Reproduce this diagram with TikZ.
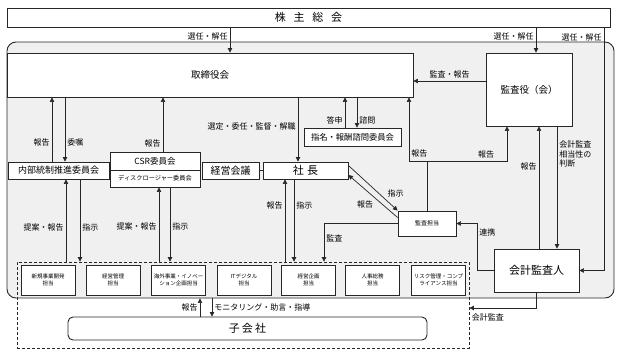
\documentclass[tikz,border=0pt]{standalone}
\usepackage{fontspec}
\setmainfont{Noto Sans CJK JP}
\usetikzlibrary{arrows.meta}
\usetikzlibrary{positioning}

\begin{document}
\begin{tikzpicture}[x=1pt,y=-1pt,
        box/.style={draw=black!85,line width=0.9pt,fill=white,inner sep=1pt,align=center},
        arr/.style={draw=black!85,line width=0.7pt,-{Triangle[length=4.5pt,width=4.5pt]}},
        ln/.style={draw=black!85,line width=0.7pt},
        lbl/.style={font=\fontsize{8}{9.5}\selectfont,inner sep=2pt},
        tanto/.style={box,minimum width=54pt,minimum height=30pt,font=\fontsize{5.5}{7.5}\selectfont}]
        \useasboundingbox (0,0) rectangle (620,354);

        \node[draw=black!85,line width=0.9pt,fill=gray!12,rounded corners=9pt,minimum width=607pt,minimum height=256pt,inner sep=0pt] (area) at (310.5,170) {};
        \node[box,minimum width=603pt,minimum height=19pt,font=\fontsize{11}{13}\selectfont] (kabu) at (308.5,17.5) {株\hspace{0.7em}主\hspace{0.7em}総\hspace{0.7em}会};

        \node[box,minimum width=406pt,minimum height=44pt,font=\fontsize{9.5}{11}\selectfont] (tori) at (210,75) {取締役会};
        \node[box,minimum width=86pt,minimum height=73pt,font=\fontsize{9.5}{11}\selectfont] (kansa) at (529,89.5) {監査役（会）};
        \node[box,minimum width=101pt,minimum height=17pt,font=\fontsize{9}{11}\selectfont] (naibu) at (58.5,170.5) {内部統制推進委員会};
        \node[box,minimum width=90pt,minimum height=18pt,font=\fontsize{8.5}{10}\selectfont] (csr) at (155,161) {CSR委員会};
        \node[box,minimum width=90pt,minimum height=17pt,font=\fontsize{6.2}{7}\selectfont] (disc) at (155,178.5) {ディスクロージャー委員会};
        \node[box,minimum width=57pt,minimum height=17pt,font=\fontsize{10}{12}\selectfont] (keiei) at (230.5,170.5) {経営会議};
        \node[box,minimum width=85pt,minimum height=17pt,font=\fontsize{11}{13}\selectfont] (shacho) at (305.5,170.5) {社\hspace{0.3em}長};
        \node[box,minimum width=97pt,minimum height=18pt,font=\fontsize{8.3}{10}\selectfont] (shimei) at (352.5,137) {指名・報酬諮問委員会};
        \node[box,minimum width=58pt,minimum height=25pt,font=\fontsize{6}{7}\selectfont] (kansatanto) at (427,223.5) {監査担当};
        \node[box,minimum width=85pt,minimum height=43pt,font=\fontsize{11}{13}\selectfont] (kaikei) at (536.5,270.5) {会計監査人};

        \node[draw=black!85,line width=0.8pt,dash pattern=on 3pt off 2pt,minimum width=452pt,minimum height=86pt,inner sep=0pt] (grp) at (243,305) {};
        \foreach \cx/\txt [count=\i] in {48/{新規事業開発\\担当},113/{経営管理\\担当},178.5/{海外事業・イノベー\\ション企画担当},244/{ITデジタル\\担当},308.5/{経営企画\\担当},372.5/{人事総務\\担当},438.5/{リスク管理・コンプ\\ライアンス担当}}
            \node[tanto] (tanto\i) at (\cx,280) {\txt};
        \node[box,rounded corners=5pt,minimum width=359pt,minimum height=23pt,font=\fontsize{11}{13}\selectfont] (ko) at (247.5,328.5) {子\hspace{0.2em}会\hspace{0.2em}社};

        \draw[arr] (kabu.south -| 230,0) -- node[lbl,left,pos=0.35] {選任・解任} (tori.north -| 230,0);
        \draw[arr] (kabu.south -| 536,0) -- node[lbl,left,pos=0.35] {選任・解任} (kansa.north -| 536,0);
        \draw[arr] (kabu.south -| 604,0) |- node[lbl,left,pos=0.02] {選任・解任} (kaikei.east);

        \draw[arr] (kansa.west |- 0,81) -- node[lbl,above] {監査・報告} (tori.east |- 0,81);
        \draw[arr] (kaikei.north -| 539,0) -- node[lbl,left,pos=0.67] {報告} (kansa.south -| 539,0);
        \draw[arr] (kansa.south -| 557,0) -- node[lbl,anchor=north west,pos=0.1,align=left] {会計監査\\相当性の\\判断} (kaikei.north -| 557,0);

        \draw[arr] (naibu.north -| 52,0) -- node[lbl,left,pos=0.3] {報告} (tori.south -| 52,0);
        \draw[arr] (tori.south -| 65,0) -- node[lbl,right,pos=0.7] {委嘱} (naibu.north -| 65,0);
        \draw[arr] (grp.north -| 66,0) -- node[lbl,left,pos=0.41] {提案・報告} (naibu.south -| 66,0);
        \draw[arr] (naibu.south -| 80,0) -- node[lbl,right,pos=0.59] {指示} (grp.north -| 80,0);

        \draw[arr] (csr.north -| 163,0) -- node[lbl,left,pos=0.15] {報告} (tori.south -| 163,0);
        \draw[arr] (grp.north -| 159,0) -- node[lbl,left,pos=0.47] {提案・報告} (disc.south -| 159,0);
        \draw[arr] (disc.south -| 170,0) -- node[lbl,right,pos=0.53] {指示} (grp.north -| 170,0);

        \draw[arr] (tori.south -| 298,0) -- node[lbl,left,pos=0.45] {選定・委任・監督・解職} (shacho.north -| 298,0);
        \draw[ln] (keiei.east) -- (shacho.west);
        \draw[arr] (grp.north -| 285,0) -- node[lbl,left,pos=0.68] {報告} (shacho.south -| 285,0);
        \draw[arr] (shacho.south -| 294,0) -- node[lbl,right,pos=0.32] {指示} (grp.north -| 294,0);

        \draw[arr] (shimei.north -| 345,0) -- node[lbl,left,pos=0.25] {答申} (tori.south -| 345,0);
        \draw[arr] (tori.south -| 357,0) -- node[lbl,right,pos=0.75] {諮問} (shimei.north -| 357,0);

        \coordinate (junc) at (kansatanto.north |- 0,161);
        \draw[ln] (kansatanto.north) -- (junc);
        \draw[arr] (junc) -| node[lbl,right,pos=0.56] {報告} (tori.south -| 409,0);
        \draw[arr] (junc) -| node[lbl,above,pos=0.37] {報告} (kansa.south -| 507,0);
        \draw[arr] ([yshift=5pt]shacho.east) -- node[lbl,above right,pos=0.75] {指示} (kansatanto.north west);
        \draw[arr] ([yshift=6pt]kansatanto.west) -- node[lbl,below left,pos=0.45] {報告} ([yshift=-4.5pt]shacho.east);
        \draw[arr] (kansatanto.west) -| node[lbl,right,pos=0.69] {監査} (grp.north -| 324,0);
        \draw[arr] (kaikei.west) -| node[lbl,right,pos=0.9] {連携} (kansatanto.east -| 477,0) -- (kansatanto.east);
        \draw[arr] (kaikei.south) |- node[lbl,pos=1,anchor=north west,yshift=-3pt] {会計監査} (grp.east |- 0,308);

        \draw[arr] (ko.north -| 200,0) -- node[lbl,left] {報告} (area.south -| 200,0);
        \draw[arr] (area.south -| 212,0) -- node[lbl,right] {モニタリング・助言・指導} (ko.north -| 212,0);
\end{tikzpicture}
\end{document}
